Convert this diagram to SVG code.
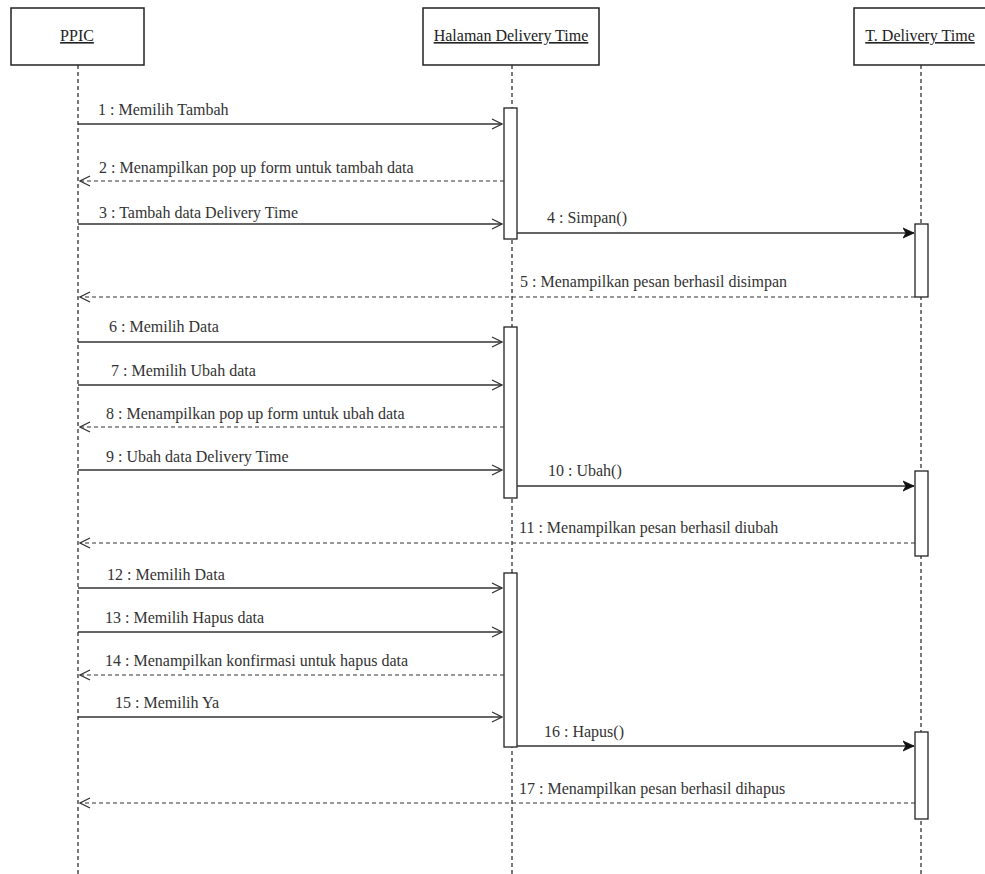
<svg xmlns="http://www.w3.org/2000/svg" width="985" height="874" viewBox="0 0 985 874">
  <style>
    .box { fill: #fff; stroke: #222; stroke-width: 1.5; }
    .life { stroke: #333; stroke-width: 1.3; stroke-dasharray: 4 3; fill: none; }
    .act { fill: #fff; stroke: #222; stroke-width: 1.3; }
    .msg { stroke: #333; stroke-width: 1.3; fill: none; }
    .ret { stroke: #333; stroke-width: 1.2; stroke-dasharray: 4 3; fill: none; }
    .name { font-size: 16px; fill: #222; text-decoration: underline; text-anchor: middle; }
    .lbl { font-size: 16px; fill: #333; }
  </style>
  <defs>
    <marker id="open" viewBox="0 0 12 12" refX="11" refY="6" markerWidth="12" markerHeight="12" markerUnits="userSpaceOnUse" orient="auto">
      <path d="M1 1 L11 6 L1 11" fill="none" stroke="#333" stroke-width="1.3"/>
    </marker>
    <marker id="filled" viewBox="0 0 12 12" refX="11" refY="6" markerWidth="12" markerHeight="12" markerUnits="userSpaceOnUse" orient="auto">
      <path d="M0 1 L11 6 L0 11 L3 6 Z" fill="#111" stroke="#111" stroke-width="0.8"/>
    </marker>
  </defs>
  <rect width="985" height="874" fill="#fff"/>

  <!-- lifelines -->
  <g id="lifelines">
    <line class="life" x1="78" y1="65" x2="78" y2="874"/>
    <line class="life" x1="512" y1="65" x2="512" y2="874"/>
    <line class="life" x1="921" y1="65" x2="921" y2="874"/>
  </g>

  <g font-family="'Liberation Serif', 'DejaVu Serif', serif">
    <g id="ppic">
      <rect class="box" x="11" y="8" width="133" height="57"/>
      <text class="name" x="77" y="41">PPIC</text>
    </g>
    <g id="halaman">
      <rect class="box" x="423" y="8" width="176" height="57"/>
      <text class="name" x="511" y="41">Halaman Delivery Time</text>
    </g>
    <g id="tabel">
      <rect class="box" x="854" y="8" width="134" height="57"/>
      <text class="name" x="920" y="41">T. Delivery Time</text>
    </g>
  </g>

  <!-- activation bars -->
  <g id="activations">
    <rect class="act" x="504" y="108" width="13" height="131"/>
    <rect class="act" x="504" y="327" width="13" height="171"/>
    <rect class="act" x="504" y="573" width="13" height="174"/>
    <rect class="act" x="915" y="224" width="13" height="73"/>
    <rect class="act" x="915" y="471" width="13" height="85"/>
    <rect class="act" x="915" y="732" width="13" height="87"/>
  </g>

  <g id="connectors">
    <line class="msg" x1="78" y1="124" x2="502" y2="124" marker-end="url(#open)"/>
    <line class="ret" x1="504" y1="181" x2="80" y2="181" marker-end="url(#open)"/>
    <line class="msg" x1="78" y1="224" x2="502" y2="224" marker-end="url(#open)"/>
    <line class="msg" x1="517" y1="233" x2="914" y2="233" marker-end="url(#filled)"/>
    <line class="ret" x1="915" y1="297" x2="80" y2="297" marker-end="url(#open)"/>

    <line class="msg" x1="78" y1="342" x2="502" y2="342" marker-end="url(#open)"/>
    <line class="msg" x1="78" y1="385" x2="502" y2="385" marker-end="url(#open)"/>
    <line class="ret" x1="504" y1="427" x2="80" y2="427" marker-end="url(#open)"/>
    <line class="msg" x1="78" y1="470" x2="502" y2="470" marker-end="url(#open)"/>
    <line class="msg" x1="517" y1="486" x2="914" y2="486" marker-end="url(#filled)"/>
    <line class="ret" x1="915" y1="543" x2="80" y2="543" marker-end="url(#open)"/>

    <line class="msg" x1="78" y1="588" x2="502" y2="588" marker-end="url(#open)"/>
    <line class="msg" x1="78" y1="632" x2="502" y2="632" marker-end="url(#open)"/>
    <line class="ret" x1="504" y1="675" x2="80" y2="675" marker-end="url(#open)"/>
    <line class="msg" x1="78" y1="717" x2="502" y2="717" marker-end="url(#open)"/>
    <line class="msg" x1="517" y1="746" x2="914" y2="746" marker-end="url(#filled)"/>
    <line class="ret" x1="915" y1="803" x2="80" y2="803" marker-end="url(#open)"/>
  </g>

  <g id="labels" font-family="'Liberation Serif', 'DejaVu Serif', serif">
    <text class="lbl" x="98" y="115">1 : Memilih Tambah</text>
    <text class="lbl" x="99" y="173">2 : Menampilkan pop up form untuk tambah data</text>
    <text class="lbl" x="99" y="218">3 : Tambah data Delivery Time</text>
    <text class="lbl" x="547" y="223">4 : Simpan()</text>
    <text class="lbl" x="520" y="287">5 : Menampilkan pesan berhasil disimpan</text>

    <text class="lbl" x="109" y="332">6 : Memilih Data</text>
    <text class="lbl" x="111" y="376">7 : Memilih Ubah data</text>
    <text class="lbl" x="106" y="419">8 : Menampilkan pop up form untuk ubah data</text>
    <text class="lbl" x="106" y="462">9 : Ubah data Delivery Time</text>
    <text class="lbl" x="548" y="476">10 : Ubah()</text>
    <text class="lbl" x="519" y="533">11 : Menampilkan pesan berhasil diubah</text>

    <text class="lbl" x="107" y="580">12 : Memilih Data</text>
    <text class="lbl" x="105" y="623">13 : Memilih Hapus data</text>
    <text class="lbl" x="105" y="666">14 : Menampilkan konfirmasi untuk hapus data</text>
    <text class="lbl" x="115" y="708">15 : Memilih Ya</text>
    <text class="lbl" x="544" y="737">16 : Hapus()</text>
    <text class="lbl" x="519" y="794">17 : Menampilkan pesan berhasil dihapus</text>
  </g>
</svg>
